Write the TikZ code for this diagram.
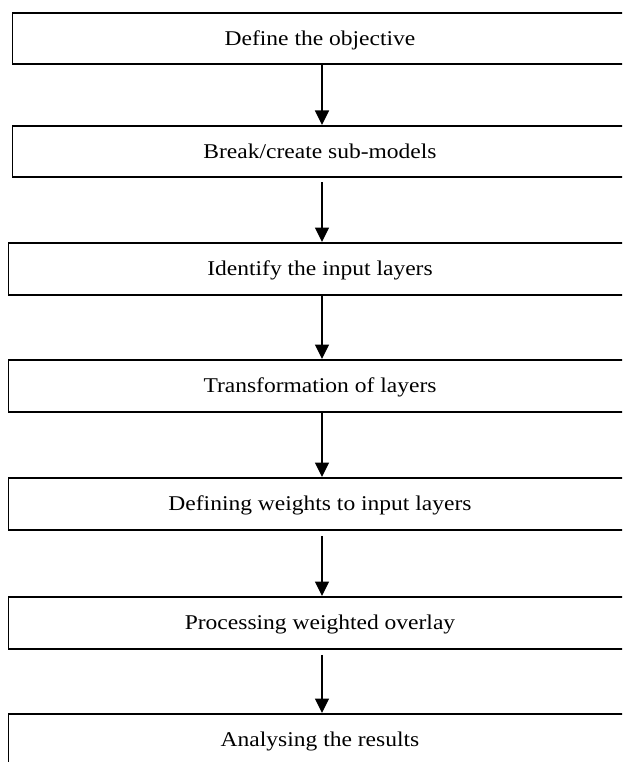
\documentclass[tikz,border=0pt]{standalone}
\usepackage{fontspec}
\setmainfont{Liberation Serif}[FakeStretch=1.12]
\usetikzlibrary{arrows.meta}
\begin{document}
\begin{tikzpicture}[x=1pt,y=-1pt,
  stepbox/.style={draw,line width=1.8pt,inner sep=0pt,anchor=north west,minimum width=640pt},
  steptext/.style={anchor=base,inner sep=0pt,font=\fontsize{21}{24}\selectfont},
  flow/.style={line width=1.3pt,-{Triangle[length=14.5pt,width=14pt]}}]
\useasboundingbox (0,0) rectangle (622,762);
\clip (0,0) rectangle (622,762);
\fill[white] (0,0) rectangle (622,762);
% boxes
\node[stepbox,minimum height=51.5pt] (b1) at (11.5,12) {};
\node[stepbox,minimum height=51.5pt] (b2) at (11.5,125) {};
\node[stepbox,minimum height=52pt] (b3) at (7.5,242) {};
\node[stepbox,minimum height=52pt] (b4) at (7.5,359) {};
\node[stepbox,minimum height=52pt] (b5) at (7.5,477) {};
\node[stepbox,minimum height=52pt] (b6) at (7.5,596) {};
\node[stepbox,minimum height=60pt] (b7) at (7.5,713) {};
% texts
\node[steptext] (t1) at (320,45.5) {Define the objective};
\node[steptext] (t2) at (320,158.5) {Break/create sub-models};
\node[steptext] (t3) at (320,275.5) {Identify the input layers};
\node[steptext] (t4) at (320,392.5) {Transformation of layers};
\node[steptext] (t5) at (320,510.5) {Defining weights to input layers};
\node[steptext] (t6) at (320,629.5) {Processing weighted overlay};
\node[steptext] (t7) at (320,746.5) {Analysing the results};
% arrows (the connectors run at x = 322)
\coordinate (ax) at (322,0);
\draw[flow] (ax |- b1.south) -- (ax |- b2.north);
\draw[flow,shorten <=4pt] (ax |- b2.south) -- (ax |- b3.north);
\draw[flow] (ax |- b3.south) -- (ax |- b4.north);
\draw[flow] (ax |- b4.south) -- (ax |- b5.north);
\draw[flow,shorten <=5pt] (ax |- b5.south) -- (ax |- b6.north);
\draw[flow,shorten <=5pt] (ax |- b6.south) -- (ax |- b7.north);
\end{tikzpicture}
\end{document}
